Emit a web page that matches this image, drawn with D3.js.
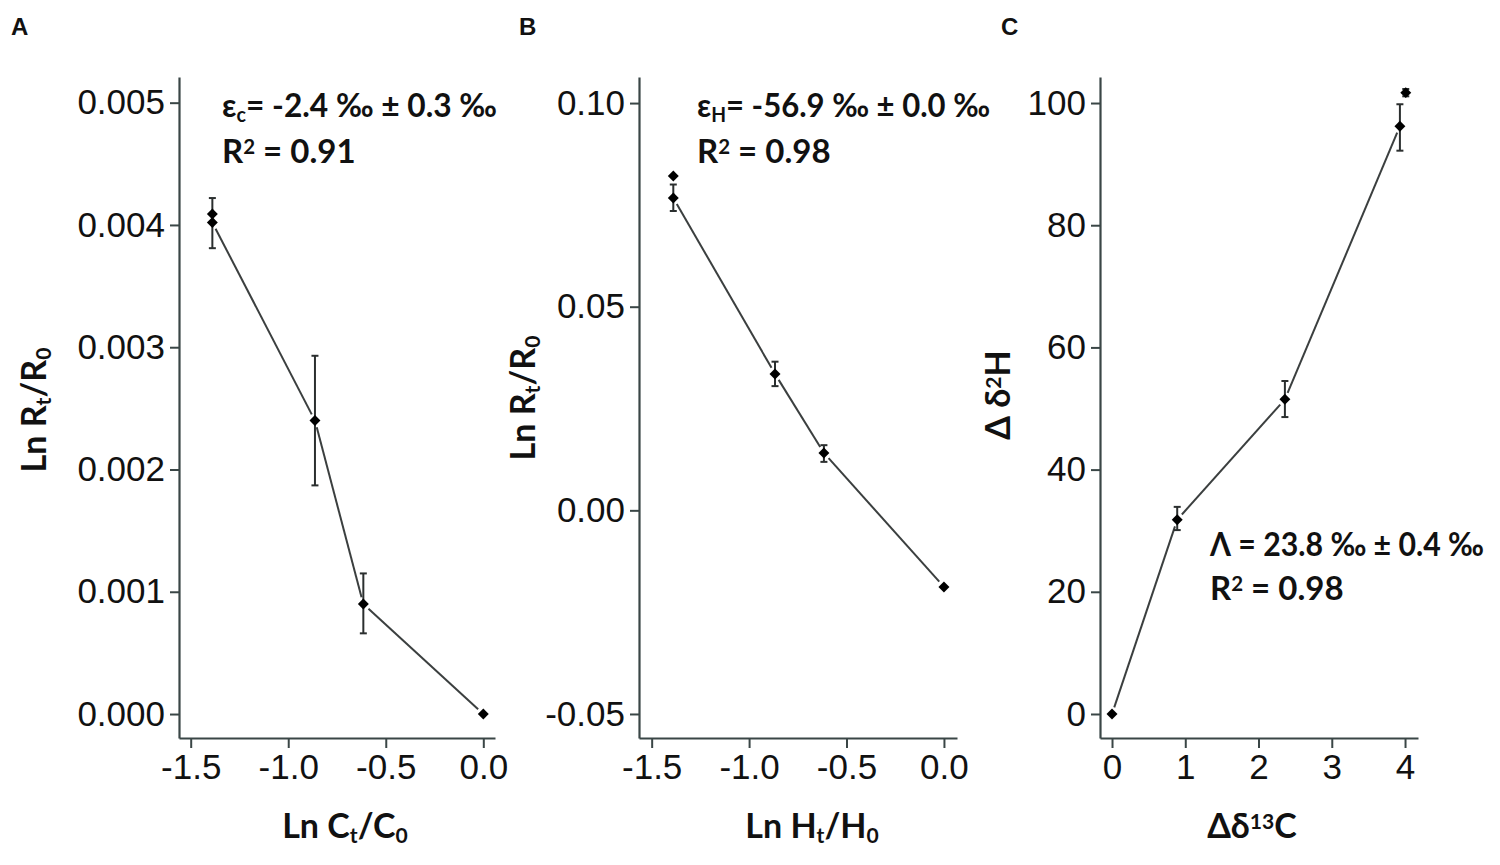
<!DOCTYPE html>
<html><head><meta charset="utf-8">
<script src="https://cdn.jsdelivr.net/npm/d3@7"></script>
<style>
html,body{margin:0;padding:0;background:#fff;}
svg{display:block;}
.tick text{font-family:"Liberation Sans",Arial,sans-serif;}
</style></head>
<body>
<svg id="chart" width="1500" height="865"></svg>
<script>
// ---------- DATA ----------
// Panel A: Ln Ct/C0 vs Ln Rt/R0 (carbon)
const aX      = [-1.389, -1.389, -0.863, -0.615, 0.0];
const aY      = [0.00409, 0.00402, 0.00240, 0.00090, 0.0];
const aErrLo  = [null, 0.00381, 0.00187, 0.00066, null];
const aErrHi  = [null, 0.00422, 0.00293, 0.00115, null];
const aOnLine = [false, true, true, true, true];
const aXTicks = [-1.5, -1.0, -0.5, 0.0];
const aYTicks = [0.000, 0.001, 0.002, 0.003, 0.004, 0.005];

// Panel B: Ln Ht/H0 vs Ln Rt/R0 (hydrogen)
const bX      = [-1.389, -1.389, -0.867, -0.616, 0.0];
const bY      = [0.0821, 0.0767, 0.0335, 0.0141, -0.0188];
const bErrLo  = [null, 0.0735, 0.0305, 0.0119, null];
const bErrHi  = [null, 0.0800, 0.0365, 0.0160, null];
const bOnLine = [false, true, true, true, true];
const bXTicks = [-1.5, -1.0, -0.5, 0.0];
const bYTicks = [-0.05, 0.00, 0.05, 0.10];

// Panel C: Δδ13C vs Δδ2H
const cX      = [0.0, 0.89, 2.36, 3.93, 4.01];
const cY      = [0.0, 31.8, 51.5, 96.2, 101.7];
const cErrLo  = [null, 30.1, 48.6, 92.2, 101.1];
const cErrHi  = [null, 33.9, 54.5, 99.8, 102.3];
const cOnLine = [true, true, true, true, false];
const cXTicks = [0, 1, 2, 3, 4];
const cYTicks = [0, 20, 40, 60, 80, 100];

// ---------- DRAWING ----------
const svg = d3.select("#chart");
const INK = "#2b2f2f";
const axisTop = 77, axisBottom = 738;
const hy = f => v => f(v).replace("\u2212", "-");

const panels = [
  {letter:"A", lx:11, left:179, right:495, xDom:[-1.56,0.06], yDom:[-0.000196,0.00521],
   xs:aX, ys:aY, lo:aErrLo, hi:aErrHi, on:aOnLine, xt:aXTicks, yt:aYTicks,
   xFmt:hy(d3.format(".1f")), yFmt:hy(d3.format(".3f"))},
  {letter:"B", lx:519, left:639, right:957, xDom:[-1.565,0.067], yDom:[-0.0559,0.1064],
   xs:bX, ys:bY, lo:bErrLo, hi:bErrHi, on:bOnLine, xt:bXTicks, yt:bYTicks,
   xFmt:hy(d3.format(".1f")), yFmt:hy(d3.format(".2f"))},
  {letter:"C", lx:1001, left:1100, right:1418, xDom:[-0.164,4.177], yDom:[-3.93,104.26],
   xs:cX, ys:cY, lo:cErrLo, hi:cErrHi, on:cOnLine, xt:cXTicks, yt:cYTicks,
   xFmt:hy(d3.format("d")), yFmt:hy(d3.format("d"))}
];

panels.forEach(p => {
  const x = d3.scaleLinear().domain(p.xDom).range([p.left, p.right]);
  const y = d3.scaleLinear().domain(p.yDom).range([axisBottom, axisTop]);
  const g = svg.append("g");

  // panel letter
  svg.append("text").attr("x", p.lx).attr("y", 35)
    .attr("font-family","Liberation Sans, Arial, sans-serif").attr("font-weight","bold")
    .attr("font-size", 24).attr("fill","#111").text(p.letter);

  // axes
  const xa = g.append("g").attr("transform",`translate(0,${axisBottom})`)
    .call(d3.axisBottom(x).tickValues(p.xt).tickFormat(p.xFmt).tickSize(10).tickPadding(6).tickSizeOuter(0));
  const ya = g.append("g").attr("transform",`translate(${p.left},0)`)
    .call(d3.axisLeft(y).tickValues(p.yt).tickFormat(p.yFmt).tickSize(9).tickPadding(5).tickSizeOuter(0));
  [xa, ya].forEach(a => {
    a.select(".domain").attr("stroke", "#3a4646").attr("stroke-width", 2.2);
    a.selectAll(".tick line").attr("stroke", "#3a4646").attr("stroke-width", 2);
    a.selectAll(".tick text").attr("font-size", 35).attr("fill", "#111");
  });

  // connecting line with gaps at markers
  const pts = p.xs.map((v,i)=>({px:x(v), py:y(p.ys[i]), on:p.on[i]})).filter(d=>d.on);
  const gap = 7;
  for (let i=0;i<pts.length-1;i++){
    const a = pts[i], b = pts[i+1];
    const dx=b.px-a.px, dy=b.py-a.py, L=Math.hypot(dx,dy);
    const ux=dx/L, uy=dy/L;
    g.append("line")
      .attr("x1", a.px+ux*gap).attr("y1", a.py+uy*gap)
      .attr("x2", b.px-ux*gap).attr("y2", b.py-uy*gap)
      .attr("stroke", "#3b3f3f").attr("stroke-width", 2);
  }

  // error bars
  p.xs.forEach((v,i)=>{
    if (p.lo[i]==null) return;
    const cx = x(v), y1 = y(p.lo[i]), y2 = y(p.hi[i]);
    g.append("line").attr("x1",cx).attr("x2",cx).attr("y1",y1).attr("y2",y2)
      .attr("stroke", INK).attr("stroke-width", 2);
    [y1,y2].forEach(yy => g.append("line").attr("x1",cx-3.5).attr("x2",cx+3.5)
      .attr("y1",yy).attr("y2",yy).attr("stroke", INK).attr("stroke-width", 2));
  });

  // markers
  const sym = d3.symbol().type(d3.symbolSquare).size(60);
  p.xs.forEach((v,i)=>{
    g.append("path").attr("d", sym())
      .attr("transform", `translate(${x(v)},${y(p.ys[i])}) rotate(45)`)
      .attr("fill", "#000");
  });
});

// ---------- TEXT ----------
const TF = "Lato, 'Open Sans', sans-serif";
function rich(parent, parts, attrs){
  const t = parent.append("text").attr("font-family", TF).attr("font-weight", 700).attr("fill","#111");
  Object.entries(attrs).forEach(([k,v])=>t.attr(k,v));
  parts.forEach(([s, kind]) => {
    const ts = t.append("tspan").text(s);
    if (kind === "sub") ts.attr("font-size","62%").attr("baseline-shift","-25%");
    if (kind === "sup") ts.attr("font-size","62%").attr("baseline-shift","45%");
  });
  return t;
}

// annotations
rich(svg, [["ε"],["c","sub"],["= -2.4 ‰ ± 0.3 ‰"]], {x:222, y:117, "font-size":33, textLength:275, lengthAdjust:"spacingAndGlyphs"});
rich(svg, [["R"],["2","sup"],[" = 0.91"]], {x:222, y:163, "font-size":33});
rich(svg, [["ε"],["H","sub"],["= -56.9 ‰ ± 0.0 ‰"]], {x:697, y:117, "font-size":33, textLength:293, lengthAdjust:"spacingAndGlyphs"});
rich(svg, [["R"],["2","sup"],[" = 0.98"]], {x:697, y:163, "font-size":33});
rich(svg, [["Λ = 23.8 ‰ ± 0.4 ‰"]], {x:1210, y:556, "font-size":32, textLength:274, lengthAdjust:"spacingAndGlyphs"});
rich(svg, [["R"],["2","sup"],[" = 0.98"]], {x:1210, y:600, "font-size":33});

// x-axis titles
rich(svg, [["Ln C"],["t","sub"],["/C"],["0","sub"]], {x:345, y:838, "font-size":34, "text-anchor":"middle"});
rich(svg, [["Ln H"],["t","sub"],["/H"],["0","sub"]], {x:812, y:838, "font-size":34, "text-anchor":"middle"});
rich(svg, [["Δδ"],["13","sup"],["C"]], {x:1252, y:838, "font-size":34, "text-anchor":"middle"});

// y-axis titles
rich(svg, [["Ln R"],["t","sub"],["/R"],["0","sub"]], {transform:"translate(46,410) rotate(-90)", "font-size":34, "text-anchor":"middle"});
rich(svg, [["Ln R"],["t","sub"],["/R"],["0","sub"]], {transform:"translate(535,398) rotate(-90)", "font-size":34, "text-anchor":"middle"});
rich(svg, [["Δ δ"],["2","sup"],["H"]], {transform:"translate(1010,395) rotate(-90)", "font-size":34, "text-anchor":"middle"});
</script>
</body></html>
